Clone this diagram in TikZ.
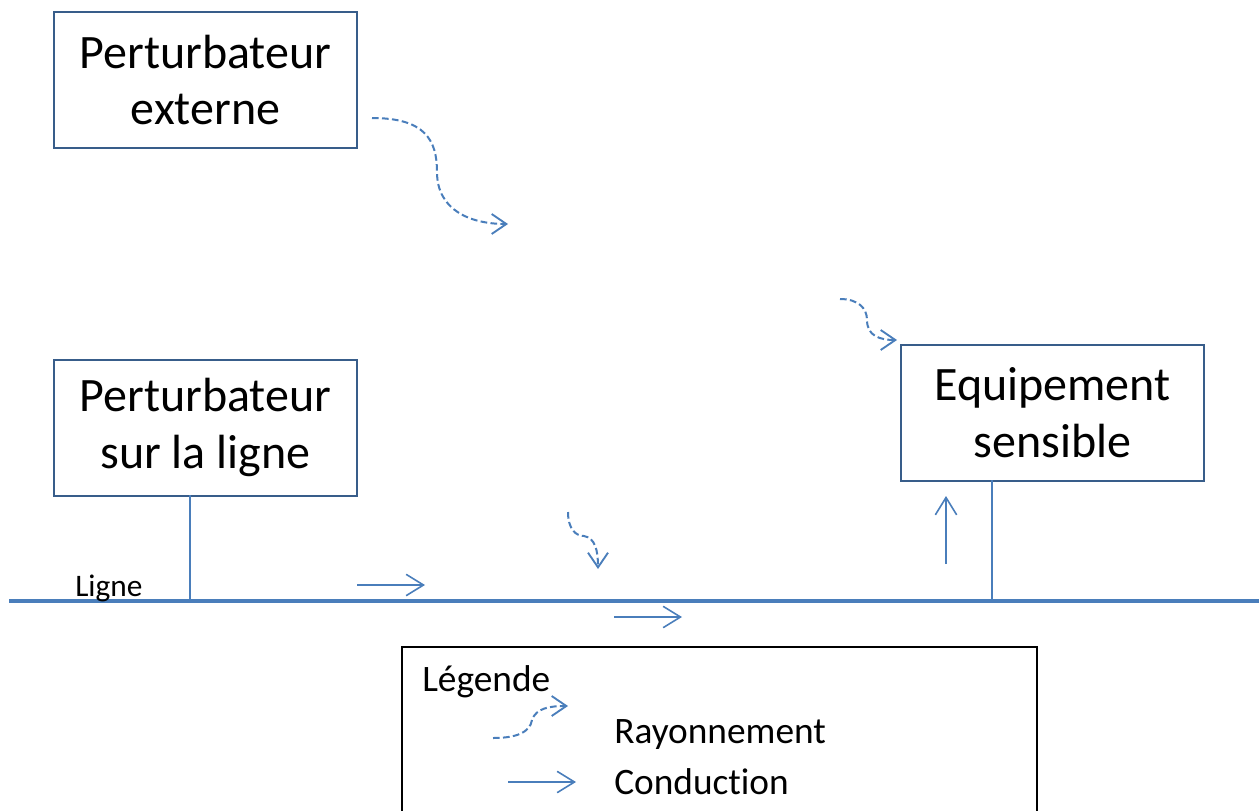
\documentclass[tikz,border=0pt]{standalone}
\usepackage{fontspec}
\setmainfont{Carlito}[RawFeature={-liga;-calt;-clig}]
\usetikzlibrary{arrows.meta}
\definecolor{lineblue}{HTML}{4A7EBB}
\definecolor{boxblue}{HTML}{385D8A}
\begin{document}
\begin{tikzpicture}[x=0.75pt,y=-0.75pt,
  mainbox/.style={draw=boxblue,line width=1.5pt,minimum width=227pt,minimum height=102pt,align=center,inner sep=0pt,font=\fontsize{36}{42.5}\selectfont},
  wire/.style={draw=lineblue,line width=2.6pt},
  stub/.style={draw=lineblue,line width=2pt},
  cond/.style={draw=lineblue,line width=1.2pt,-{Straight Barb[length=13pt,width=16pt,line width=1.2pt]}},
  rad/.style={draw=lineblue,line width=1.5pt,dash pattern=on 5pt off 2.5pt,-{Straight Barb[length=11pt,width=15pt,line width=1.4pt,sep=0pt]}},
  legtext/.style={anchor=west,inner sep=0pt,font=\fontsize{28}{33}\selectfont}]
\useasboundingbox (0,0) rectangle (1259,810);
% boxes
\node[mainbox] (ext) at (205.5,80) {Perturbateur\\externe};
\node[mainbox] (ligbox) at (205.5,427.5) {Perturbateur\\sur la ligne};
\node[mainbox] (equip) at (1052.5,412.5) {Equipement\\sensible};
% line
\coordinate (L1) at (9,601);
\coordinate (L2) at (1259,601);
\coordinate (J1) at (190,601);
\coordinate (J2) at (992,601);
\coordinate (S1) at (190,495);
\coordinate (S2) at (992,480);
\draw[wire] (L1) -- (L2);
\draw[stub] (S1) -- (J1);
\draw[stub] (S2) -- (J2);
\node[anchor=west,inner sep=0pt,font=\fontsize{23.5}{28}\selectfont] (lignelbl) at (75,588) {Ligne};
% conduction arrows
\coordinate (c1a) at (357,585); \coordinate (c1b) at (425,585);
\coordinate (c2a) at (614,617); \coordinate (c2b) at (682,617);
\coordinate (c3a) at (946,564); \coordinate (c3b) at (946,496);
\draw[cond] (c1a) -- (c1b);
\draw[cond] (c2a) -- (c2b);
\draw[cond] (c3a) -- (c3b);
% radiation arrows
\coordinate (r1a) at (372,118); \coordinate (r1m) at (437,172); \coordinate (r1b) at (508,224);
\draw[rad] (r1a) .. controls (425,118) and (437,140) .. (r1m) .. controls (437,210) and (470,224) .. (r1b);
\coordinate (r2a) at (840,299); \coordinate (r2m) at (867,320); \coordinate (r2b) at (897,340);
\draw[rad] (r2a) .. controls (858,299) and (867,308) .. (r2m) .. controls (867,336) and (880,340) .. (r2b);
\coordinate (r3a) at (568,512); \coordinate (r3m) at (584,536); \coordinate (r3b) at (598,569);
\draw[rad] (r3a) .. controls (568,528) and (575,536) .. (r3m) .. controls (595,538) and (598,550) .. (r3b);
% legend
\node[draw=black,line width=1.5pt,minimum width=476pt,minimum height=130pt,inner sep=0pt] (legend) at (719.5,734) {};
\node[legtext] (legtitle) at (422,682) {Légende};
\node[legtext] (legray) at (614,735) {Rayonnement};
\node[legtext] (legcond) at (614,782) {Conduction};
\coordinate (lr1a) at (493,738); \coordinate (lr1m) at (532,720); \coordinate (lr1b) at (568,706);
\draw[rad] (lr1a) .. controls (515,738) and (530,733) .. (lr1m) .. controls (536,708) and (550,706) .. (lr1b);
\coordinate (lc1a) at (508,782); \coordinate (lc1b) at (576,782);
\draw[cond] (lc1a) -- (lc1b);
\end{tikzpicture}
\end{document}
